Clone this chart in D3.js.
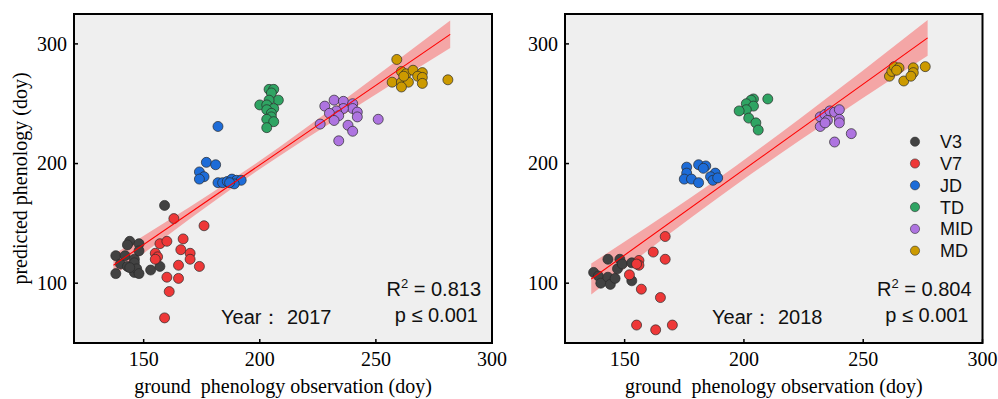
<!DOCTYPE html>
<html>
<head>
<meta charset="utf-8">
<script src="https://d3js.org/d3.v7.min.js"></script>
<style>
    body { margin: 0; background: #ffffff; }
    .tick-label { font-family: "Liberation Serif", "Times New Roman", serif; font-size: 20px; fill: #000; }
    .axis-title { font-family: "Liberation Serif", "Times New Roman", serif; font-size: 20px; fill: #000; white-space: pre; }
    .note { font-family: "Liberation Sans", Arial, sans-serif; font-size: 20px; fill: #111; white-space: pre; }
    .legend-label { font-family: "Liberation Sans", Arial, sans-serif; font-size: 18px; fill: #111; }
</style>
</head>
<body>
<script>
//groups and colours
var groups = ["V3", "V7", "JD", "TD", "MID", "MD"];
var groupColors = ["#424242", "#ee3838", "#1d6cd8", "#2fa463", "#ae74e0", "#cc9a00"];

//tick labels
var xTicks = [150, 200, 250, 300];
var yTicks = [100, 200, 300];

//2017 points [ground, predicted]
var v3_2017 = [[138,123],[138,108],[140,116],[142,123],[143,114],[144,135],[143,132],[146,120],[146,117],[146,109],[147,112],[148,133],[148,127],[148,108],[144,113],[153,111],[157,114],[159,165]];
var v7_2017 = [[157,133],[160,135],[163,154],[167,137],[155,125],[156,122],[155,120],[166,128],[170,125],[170,120],[165,115],[174,114],[160,105],[165,104],[161,93],[159,71],[176,148]];
var jd_2017 = [[182,231],[177,201],[181,199],[174,193],[176,189],[174,187],[182,184],[184,184],[186,185],[188,187],[190,186],[192,186],[189,183],[187,184]];
var td_2017 = [[204,262],[206,262],[205,259],[208,253],[204,253],[200,249],[203,249],[206,246],[203,245],[205,242],[205,239],[203,237],[206,235],[203,230]];
var mid_2017 = [[228,248],[232,253],[236,252],[240,250],[240,246],[236,246],[233,244],[230,242],[242,243],[242,239],[234,240],[232,236],[226,233],[238,232],[240,227],[251,237],[234,219]];
var md_2017 = [[259,287],[261,277],[263,275],[266,278],[270,276],[268,273],[270,272],[257,268],[261,268],[264,268],[261,264],[270,267],[281,270],[262,273]];

//2018 points [ground, predicted]
var v3_2018 = [[137,109],[139,106],[140,100],[143,105],[144,99],[146,104],[147,112],[143,120],[148,120],[149,116],[153,117],[153,102]];
var v7_2018 = [[167,139],[162,126],[167,120],[156,119],[156,115],[155,116],[152,107],[157,95],[165,88],[155,65],[163,61],[170,65]];
var jd_2018 = [[176,197],[176,192],[175,187],[178,187],[181,199],[184,198],[183,196],[181,184],[188,192],[186,189],[187,186],[189,188]];
var td_2018 = [[210,254],[204,254],[203,253],[201,250],[204,248],[201,245],[198,244],[202,238],[205,234],[206,228]];
var mid_2018 = [[232,239],[234,241],[236,244],[238,243],[240,245],[235,236],[232,231],[234,234],[240,237],[240,234],[245,225],[238,218]];
var md_2018 = [[261,273],[262,277],[263,281],[265,280],[264,278],[267,269],[271,280],[271,276],[270,273],[276,281]];

//fitted lines (end points) and confidence band half widths
var fitX2017 = [137, 282], fitY2017 = [115, 308];
var bandX2017 = [137, 160, 198, 240, 282], bandHalf2017 = [9, 6.1, 3.5, 6.5, 11.5];
var fitX2018 = [136, 277], fitY2018 = [103.5, 305];
var bandX2018 = [136, 160, 197, 240, 277], bandHalf2018 = [13, 10, 8, 10.5, 15];

//stats
var stats2017 = ["0.813", "p \u2264 0.001", "Year\uFF1A 2017"];
var stats2018 = ["0.804", "p \u2264 0.001", "Year\uFF1A 2018"];

window.onload = drawChart();

function drawChart(){
    var width = 998,
        height = 399;

    var svg = d3.select("body")
        .append("svg")
        .attr("width", width)
        .attr("height", height);

    var y = d3.scaleLinear().domain([50, 325]).range([343, 14]);

    //left panel
    var x1 = d3.scaleLinear().domain([120, 300]).range([74, 492]);
    drawPanel(svg, x1, y, [v3_2017, v7_2017, jd_2017, td_2017, mid_2017, md_2017],
        fitX2017, fitY2017, bandX2017, bandHalf2017, stats2017, 221);

    //right panel
    var x2 = d3.scaleLinear().domain([125, 300]).range([565, 982.5]);
    drawPanel(svg, x2, y, [v3_2018, v7_2018, jd_2018, td_2018, mid_2018, md_2018],
        fitX2018, fitY2018, bandX2018, bandHalf2018, stats2018, 712);

    //y axis title
    svg.append("text")
        .attr("class", "axis-title")
        .attr("transform", "translate(27," + (14 + 343) / 2 + ") rotate(-90)")
        .attr("text-anchor", "middle")
        .text("predicted phenology (doy)");

    //legend in right panel
    var legend = svg.selectAll(".legend")
        .data(groups)
        .enter()
        .append("g")
        .attr("class", "legend")
        .attr("transform", function(d, i){ return "translate(915," + (141.7 + i * 21.8) + ")"; });
    legend.append("circle")
        .attr("r", 4.6)
        .attr("fill", function(d, i){ return groupColors[i]; })
        .attr("stroke", "#333")
        .attr("stroke-width", 0.6);
    legend.append("text")
        .attr("class", "legend-label")
        .attr("x", 25)
        .attr("dy", "0.36em")
        .text(function(d){ return d; });
};

function drawPanel(svg, x, y, series, fitX, fitY, bandX, bandHalf, stats, yearX){
    var x0 = x.range()[0], xr = x.range()[1];
    var yb = y.range()[0], yt = y.range()[1];

    //plot background
    svg.append("rect")
        .attr("x", x0)
        .attr("y", yt)
        .attr("width", xr - x0)
        .attr("height", yb - yt)
        .attr("fill", "#efefef");

    //fit function from the line end points
    var fit = d3.scaleLinear().domain(fitX).range(fitY);
    var band = bandX.map(function(d, i){ return [d, bandHalf[i]]; });

    //confidence band
    svg.append("path")
        .datum(band)
        .attr("fill", "#f4a6a6")
        .attr("d", d3.area()
            .x(function(d){ return x(d[0]); })
            .y0(function(d){ return y(fit(d[0]) - d[1]); })
            .y1(function(d){ return y(fit(d[0]) + d[1]); })
            .curve(d3.curveMonotoneX));

    //points
    series.forEach(function(pts, i){
        svg.selectAll(".pt" + i + "_" + x0)
            .data(pts)
            .enter()
            .append("circle")
            .attr("cx", function(d){ return x(d[0]); })
            .attr("cy", function(d){ return y(d[1]); })
            .attr("r", 5)
            .attr("fill", groupColors[i])
            .attr("stroke", "#2a2a2a")
            .attr("stroke-width", 0.7);
    });

    //fitted line
    svg.append("path")
        .datum(fitX)
        .attr("fill", "none")
        .attr("stroke", "#ff0000")
        .attr("stroke-width", 1.1)
        .attr("d", d3.line()
            .x(function(d){ return x(d); })
            .y(function(d){ return y(fit(d)); }));

    //ticks (inward) on bottom and left
    svg.selectAll(".xt" + x0)
        .data(xTicks)
        .enter()
        .append("line")
        .attr("x1", function(d){ return x(d); })
        .attr("x2", function(d){ return x(d); })
        .attr("y1", yb)
        .attr("y2", yb - 4)
        .attr("stroke", "#000")
        .attr("stroke-width", 1.5);
    svg.selectAll(".yt" + x0)
        .data(yTicks)
        .enter()
        .append("line")
        .attr("x1", x0)
        .attr("x2", x0 + 4)
        .attr("y1", function(d){ return y(d); })
        .attr("y2", function(d){ return y(d); })
        .attr("stroke", "#000")
        .attr("stroke-width", 1.5);

    //tick labels
    svg.selectAll(".xl" + x0)
        .data(xTicks)
        .enter()
        .append("text")
        .attr("class", "tick-label")
        .attr("x", function(d){ return x(d); })
        .attr("y", 366)
        .attr("text-anchor", "middle")
        .text(function(d){ return d; });
    svg.selectAll(".yl" + x0)
        .data(yTicks)
        .enter()
        .append("text")
        .attr("class", "tick-label")
        .attr("x", x0 - 7)
        .attr("y", function(d){ return y(d); })
        .attr("dy", "0.34em")
        .attr("text-anchor", "end")
        .text(function(d){ return d; });

    //frame
    svg.append("rect")
        .attr("x", x0)
        .attr("y", yt)
        .attr("width", xr - x0)
        .attr("height", yb - yt)
        .attr("fill", "none")
        .attr("stroke", "#000")
        .attr("stroke-width", 2);

    //x axis title
    svg.append("text")
        .attr("class", "axis-title")
        .attr("x", (x0 + xr) / 2)
        .attr("y", 393)
        .attr("text-anchor", "middle")
        .text("ground  phenology observation (doy)");

    //R2 and p
    var r2 = svg.append("text")
        .attr("class", "note")
        .attr("x", xr - 11)
        .attr("y", 296)
        .attr("text-anchor", "end");
    r2.append("tspan").text("R");
    r2.append("tspan").attr("font-size", "13px").attr("dy", -8).text("2");
    r2.append("tspan").attr("dy", 8).text(" = " + stats[0]);
    svg.append("text")
        .attr("class", "note")
        .attr("x", xr - 14)
        .attr("y", 322)
        .attr("text-anchor", "end")
        .text(stats[1]);
    svg.append("text")
        .attr("class", "note")
        .attr("x", yearX)
        .attr("y", 324)
        .text(stats[2]);
};
</script>
</body>
</html>
